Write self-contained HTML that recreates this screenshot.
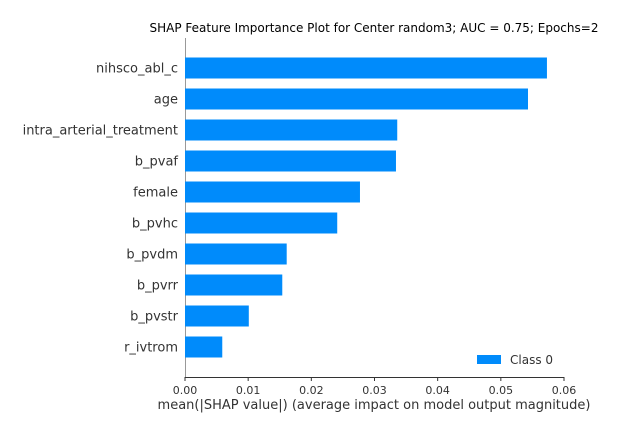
<!DOCTYPE html>
<html><head><meta charset="utf-8"><style>
body{margin:0;background:#fff}
svg text{font-family:"DejaVu Sans","Liberation Sans",sans-serif;fill:#333}
</style></head><body>
<svg id="chart" width="621" height="433" xmlns="http://www.w3.org/2000/svg">
<text x="374" y="32" font-size="12" text-anchor="middle" style="fill:#000">SHAP Feature Importance Plot for Center random3; AUC = 0.75; Epochs=2</text>
<line x1="185.5" y1="38" x2="185.5" y2="377" stroke="#999" stroke-width="1"/>
<line x1="185" y1="377.5" x2="564" y2="377.5" stroke="#333" stroke-width="1"/>
<g id="bars"></g><g id="xticks"></g><g id="ylabels"></g>
<text x="374" y="409" font-size="13" text-anchor="middle">mean(|SHAP value|) (average impact on model output magnitude)</text>
<rect x="477" y="355" width="24" height="9" fill="#008bfb"/>
<text x="510" y="364" font-size="12">Class 0</text>
</svg>
<script>
const features=["nihsco_abl_c","age","intra_arterial_treatment","b_pvaf","female","b_pvhc","b_pvdm","b_pvrr","b_pvstr","r_ivtrom"];
const values=[0.0573,0.0543,0.0336,0.0334,0.0277,0.0241,0.0161,0.0154,0.0101,0.0059];
const ticks=[0,0.01,0.02,0.03,0.04,0.05,0.06];
const ns="http://www.w3.org/2000/svg";
const x=v=>185+v/0.06*379;
const y=i=>68+i*31;
const bars=document.getElementById('bars'),xt=document.getElementById('xticks'),yl=document.getElementById('ylabels');
features.forEach((f,i)=>{
 const r=document.createElementNS(ns,'rect');
 
 
 r.setAttribute('x',x(0));r.setAttribute('y',y(i)-10.5);
 r.setAttribute('width',x(values[i])-x(0));r.setAttribute('height',21);
 r.setAttribute('fill','#008bfb');bars.appendChild(r);
 const t=document.createElementNS(ns,'text');
 
 
 t.setAttribute('x',178);t.setAttribute('y',y(i)+4.5);t.setAttribute('font-size','13');
 t.setAttribute('text-anchor','end');t.textContent=f;yl.appendChild(t);
});
ticks.forEach(v=>{
 const l=document.createElementNS(ns,'line');
 
 
 l.setAttribute('x1',x(v));l.setAttribute('x2',x(v));l.setAttribute('y1',377);l.setAttribute('y2',381);
 l.setAttribute('stroke','#333');xt.appendChild(l);
 const t=document.createElementNS(ns,'text');
 
 
 t.setAttribute('x',x(v));t.setAttribute('y',394);t.setAttribute('font-size','11');
 t.setAttribute('text-anchor','middle');t.textContent=v.toFixed(2);xt.appendChild(t);
});
</script>
</body></html>
